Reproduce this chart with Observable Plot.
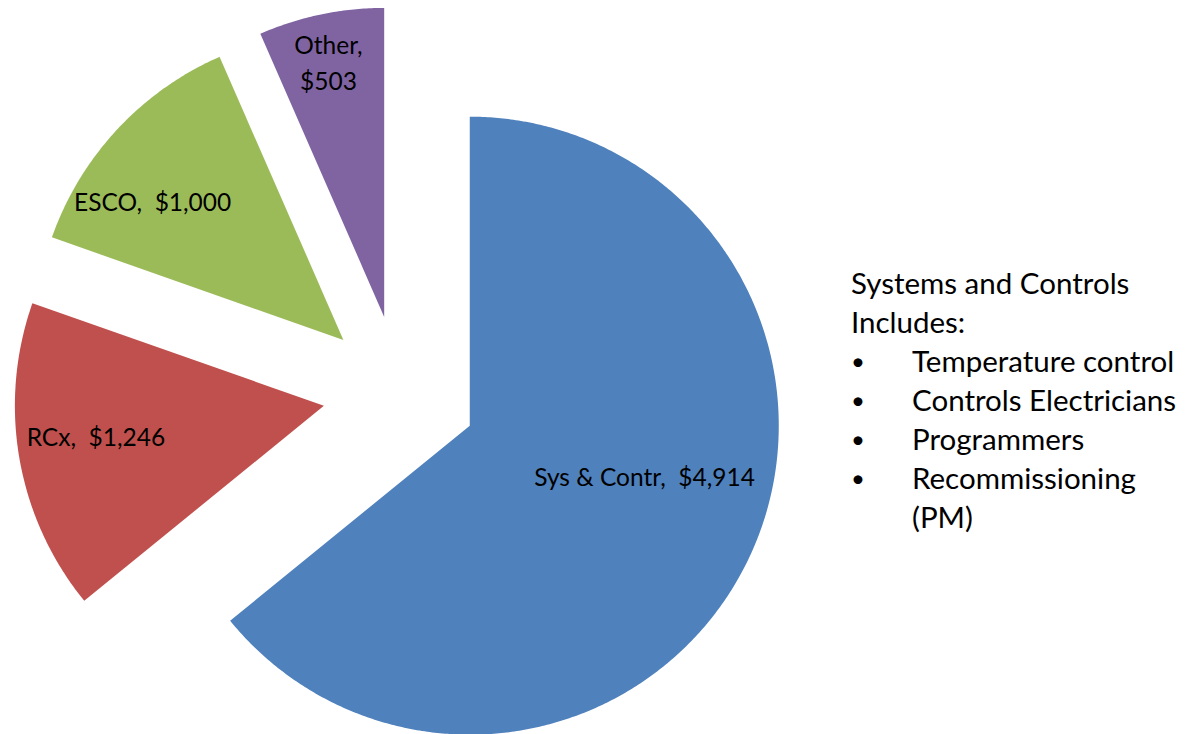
<!DOCTYPE html>
<html>
<head>
<meta charset="utf-8">
<script src="https://cdn.jsdelivr.net/npm/d3@7"></script>
<script src="https://cdn.jsdelivr.net/npm/@observablehq/plot@0.6"></script>
<style>
  html, body { margin: 0; padding: 0; background: #fff; }
  #wrap { position: relative; width: 1193px; height: 734px; overflow: hidden; }
  #note { position: absolute; left: 851px; top: 263px; font-family: Lato, "Open Sans", sans-serif; font-size: 29.5px; line-height: 39px; color: #000; }
  #note ul { list-style: none; margin: 0; padding: 0; }
  #note li { position: relative; padding-left: 61px; }
  #note li::before { content: "\2022"; position: absolute; left: 0; font-size: 24px; }
</style>
</head>
<body>
<div id="wrap">
  <div id="chart"></div>
  <div id="note"></div>
</div>
<script>
// ---- data ----
const categories = ["Sys & Contr", "RCx", "ESCO", "Other"];
const values = [4914, 1246, 1000, 503];
const valueLabels = ["$4,914", "$1,246", "$1,000", "$503"];
const colors = ["#4F81BD", "#C0504D", "#9BBB59", "#8064A2"];
const noteTitle = ["Systems and Controls", "Includes:"];
const noteItems = ["Temperature control", "Controls Electricians", "Programmers", "Recommissioning (PM)"];

// ---- layout ----
const W = 1193, H = 734;
const cx = 399.5, cy = 392, R = 309;   // pie centre & radius in pixels
const explode = 0.25;                    // explosion, fraction of radius
// label placement: polar position (deg clockwise from north, fraction of radius) relative to slice apex
const labelPos = {
  "Sys & Contr": {a: 106.5, f: 0.59},
  "RCx": {a: 262, f: 0.745},
  "ESCO": {a: 305.7, f: 0.76},
  "Other": {a: 347.6, f: 0.84}
};

const pie = d3.pie().sort(null).value(d => d.value)
  .startAngle(0).endAngle(2 * Math.PI);
const rows = categories.map((c, i) => ({category: c, value: values[i], label: valueLabels[i]}));
const arcs = pie(rows);

const polyPts = [];
const labels = [];
for (const a of arcs) {
  const mid = (a.startAngle + a.endAngle) / 2;
  const ox = explode * Math.sin(mid), oy = explode * Math.cos(mid);
  polyPts.push({category: a.data.category, x: ox, y: oy});
  const n = Math.max(8, Math.ceil((a.endAngle - a.startAngle) * 120));
  for (let k = 0; k <= n; k++) {
    const t = a.startAngle + (a.endAngle - a.startAngle) * k / n;
    polyPts.push({category: a.data.category, x: ox + Math.sin(t), y: oy + Math.cos(t)});
  }
  const lp = labelPos[a.data.category];
  const la = lp.a * Math.PI / 180;
  const txt = a.data.category === "Other"
    ? `${a.data.category},\n${a.data.label}`
    : `${a.data.category},  ${a.data.label}`;
  labels.push({x: ox + lp.f * Math.sin(la), y: oy + lp.f * Math.cos(la), text: txt});
}

const chart = Plot.plot({
  width: W, height: H,
  margin: 0,
  x: {domain: [(0 - cx) / R, (W - cx) / R], axis: null},
  y: {domain: [(cy - H) / R, cy / R], axis: null},
  color: {domain: categories, range: colors},
  marks: [
    Plot.line(polyPts, {x: "x", y: "y", z: "category", fill: "category", stroke: "none", curve: "linear-closed"}),
    Plot.text(labels, {x: "x", y: "y", text: "text", fill: "#000", fontSize: 24.5, dy: -3, fontFamily: "Lato, 'Open Sans', sans-serif", lineHeight: 1.45})
  ]
});
document.getElementById("chart").appendChild(chart);

const note = document.getElementById("note");
note.innerHTML = noteTitle.map(t => `<div>${t}</div>`).join("") +
  "<ul>" + noteItems.map(t => `<li>${t.replace(" (PM)", "<br>(PM)")}</li>`).join("") + "</ul>";
</script>
</body>
</html>
